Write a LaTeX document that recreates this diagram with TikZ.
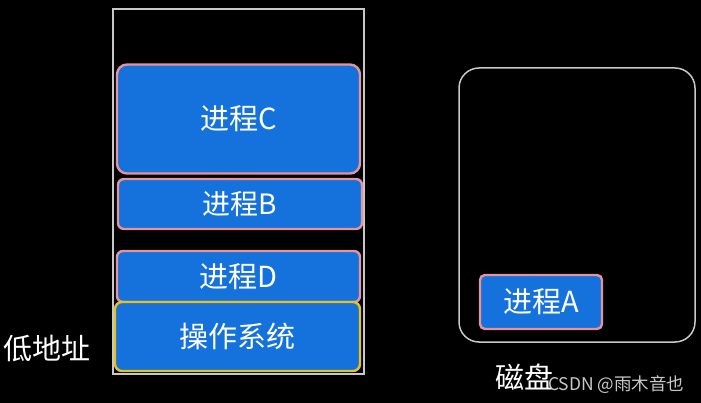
\documentclass[tikz,border=0pt]{standalone}
\usepackage{fontspec}
\setmainfont{Noto Sans CJK SC}
\newfontfamily\cjk{Noto Sans CJK SC}
\definecolor{procblue}{HTML}{1572DC}
\definecolor{pinkline}{HTML}{E8939C}
\definecolor{osyellow}{HTML}{E6C21A}
\definecolor{frame}{HTML}{C8C8C8}
\definecolor{wm}{HTML}{C8C8C8}
\begin{document}
\begin{tikzpicture}[x=1pt,y=-1pt,
  proc/.style={draw=pinkline, line width=2.4pt, fill=procblue, text=white, inner sep=0pt, font=\cjk\fontsize{29}{32}\selectfont},
  lbl/.style={text=white, inner sep=0pt, font=\cjk\fontsize{29}{32}\selectfont}]
\useasboundingbox[fill=black] (0,0) rectangle (701,403);
% memory frame
\node[draw=frame, line width=1.2pt, minimum width=251pt, minimum height=365pt, inner sep=0pt] (mem) at (238.5,191.5) {};
\node[proc, rounded corners=10pt, minimum width=243pt, minimum height=109pt] (pc) at (238.5,119) {进程C};
\node[proc, rounded corners=6pt, minimum width=244pt, minimum height=50pt, font=\cjk\fontsize{28}{32}\selectfont] (pb) at (240,204) {进程B};
\node[proc, rounded corners=6pt, minimum width=243pt, minimum height=51pt] (pd) at (238.5,276.5) {进程D};
\node[proc, draw=osyellow, rounded corners=7pt, minimum width=245pt, minimum height=69pt] (os) at (237.5,336.5) {操作系统};
\node[lbl] (low) at (47,349) {低地址};
% disk
\node[draw=frame, line width=1.5pt, rounded corners=20pt, minimum width=236pt, minimum height=274pt, inner sep=0pt] (disk) at (577,205) {};
\node[proc, rounded corners=5pt, minimum width=122pt, minimum height=54pt] (pa) at (541,302) {进程A};
\node[lbl] (dl) at (524,377) {磁盘};
\node[text=wm, inner sep=0pt, font=\cjk\fontsize{17.5}{20}\selectfont, anchor=west] (wmk) at (548,385) {CSDN @雨木音也};
\end{tikzpicture}
\end{document}
